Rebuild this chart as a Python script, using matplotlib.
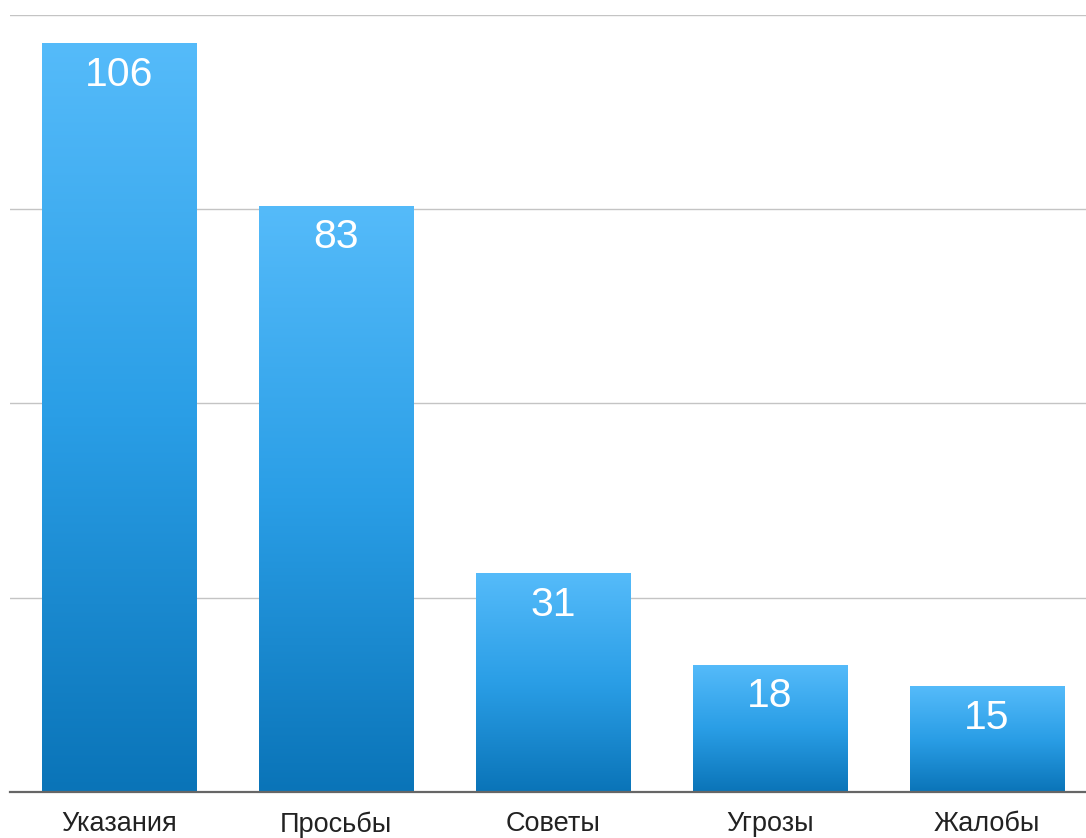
import matplotlib
matplotlib.use("Agg")
import matplotlib.pyplot as plt
import numpy as np
from matplotlib.colors import LinearSegmentedColormap

categories = ["Указания", "Просьбы", "Советы", "Угрозы", "Жалобы"]
values = [106, 83, 31, 18, 15]

plt.rcParams['font.family'] = ['Liberation Sans', 'DejaVu Sans']

W, H = 1086, 838
fig = plt.figure(figsize=(W / 100, H / 100), dpi=100)
ax = fig.add_axes([10 / W, (H - 792) / H, (W - 10) / W, (792 - 15) / H])

x = np.arange(len(categories))
bars = ax.bar(x, values, width=0.71, color='none', zorder=3)

cmap = LinearSegmentedColormap.from_list("g", ["#0a74b8", "#2a9ee6", "#55bbfa"])
grad = np.linspace(0, 1, 256).reshape(-1, 1)
for b in bars:
    x0, w, h = b.get_x(), b.get_width(), b.get_height()
    im = ax.imshow(grad, extent=[x0, x0 + w, 0, h], origin='lower', cmap=cmap,
                   aspect='auto', zorder=3, interpolation='bicubic')
    im.set_clip_path(b)

for xi, v in zip(x, values):
    ax.annotate(str(v), xy=(xi, v), xytext=(0, -9), textcoords='offset points',
                ha='center', va='top', color='white', fontsize=29.5, zorder=5)

ax.set_xlim(-0.502, 4.456)
ax.set_ylim(0, 110)
ax.set_yticks([27.5, 55, 82.5, 110])
ax.yaxis.grid(True, color='#c4c4c4', linewidth=1.0, zorder=0)
ax.set_yticklabels([])
ax.tick_params(axis='y', length=0)
ax.set_xticks(x)
ax.set_xticklabels(categories, fontsize=19.5, color='#222222')
ax.tick_params(axis='x', length=0, pad=14)
for s in ['top', 'right', 'left']:
    ax.spines[s].set_visible(False)
ax.spines['bottom'].set_color('#666666')
ax.spines['bottom'].set_linewidth(1.6)
ax.spines['bottom'].set_zorder(6)
ax.set_facecolor('white')

fig.savefig("out.png", dpi=100)
